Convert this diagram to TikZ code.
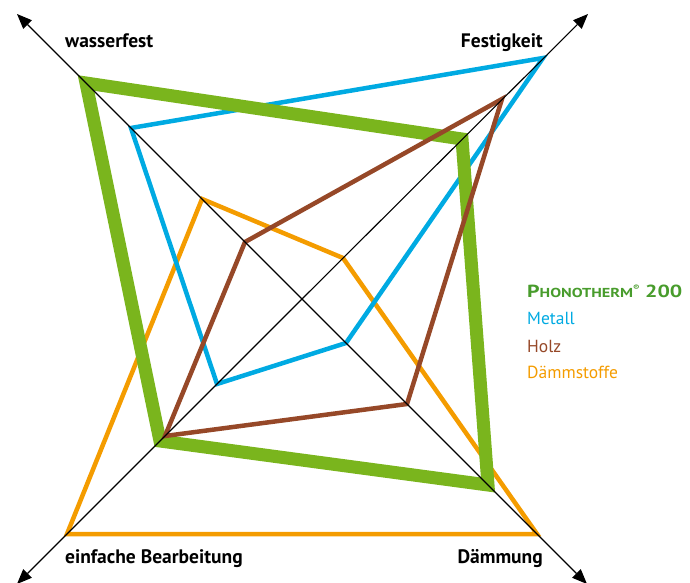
\documentclass[tikz,border=0pt]{standalone}
\usepackage{fontspec}
\setmainfont{PT Sans}
\newfontfamily\phonofont{PT Sans}[FakeStretch=1.25]
\usetikzlibrary{arrows.meta}
\definecolor{gruen}{RGB}{122,181,29}
\definecolor{gruentext}{RGB}{72,156,44}
\definecolor{blau}{RGB}{0,170,226}
\definecolor{braun}{RGB}{150,72,40}
\definecolor{daemmgelb}{RGB}{244,156,0}
\begin{document}
\begin{tikzpicture}[
		x=1pt,y=1pt,
		achse/.style={line width=1.1pt,-{Triangle[length=15pt,width=12pt]}},
		linie/.style={line width=4.5pt,line join=miter},
		phono/.style={line width=13pt,line join=miter,draw=gruen},
		beschriftung/.style={inner sep=0pt,font=\fontsize{19.5}{21}\selectfont\bfseries},
		legende/.style={inner sep=0pt,anchor=base west,font=\fontsize{17.5}{19}\selectfont}
		]
		\useasboundingbox (-302,-284) rectangle (388,299);
		\coordinate (mitte) at (0,0);
		\coordinate (wasser) at (-285,285);
		\coordinate (fest) at (286,285);
		\coordinate (daemm) at (285,-285);
		\coordinate (bearb) at (-285,-285);
		
		\coordinate (dW) at (-100,100);
		\coordinate (dF) at (41,41);
		\coordinate (dD) at (235,-235);
		\coordinate (dB) at (-235,-235);
		\coordinate (mW) at (-171,171);
		\coordinate (mF) at (241,241);
		\coordinate (mD) at (44,-44);
		\coordinate (mB) at (-85,-85);
		\coordinate (pW) at (-216,216);
		\coordinate (pF) at (160,160);
		\coordinate (pD) at (186,-186);
		\coordinate (pB) at (-142,-142);
		\coordinate (hW) at (-57,57);
		\coordinate (hF) at (200,200);
		\coordinate (hD) at (105,-105);
		\coordinate (hB) at (-137,-137);
		
		\draw[linie,draw=daemmgelb] (dW) -- (dF) -- (dD) -- (dB) -- cycle;
		\draw[linie,draw=blau] (mW) -- (mF) -- (mD) -- (mB) -- cycle;
		\draw[phono] (pW) -- (pF) -- (pD) -- (pB) -- cycle;
		\draw[linie,draw=braun] (hW) -- (hF) -- (hD) -- (hB) -- cycle;
		
		\draw[achse] (mitte) -- (wasser);
		\draw[achse] (mitte) -- (fest);
		\draw[achse] (mitte) -- (daemm);
		\draw[achse] (mitte) -- (bearb);
		
		\node[beschriftung,anchor=base west] (lwasser) at (-237,251) {wasserfest};
		\node[beschriftung,anchor=base east] (lfest) at (241,251) {Festigkeit};
		\node[beschriftung,anchor=base west] (lbearb) at (-237,-264) {einfache Bearbeitung};
		\node[beschriftung,anchor=base east] (ldaemm) at (241,-264) {Dämmung};
		
		\node[legende,text=gruentext,font=\phonofont\bfseries] (lphono) at (225,1) {{\fontsize{17.5}{18}\selectfont P}{\fontsize{13}{14}\selectfont HONOTHERM}\raisebox{7.5pt}{\fontsize{7.5}{8}\selectfont ®}\hspace{5.5pt}{\fontsize{17.5}{18}\selectfont 200}};
		\node[legende,text=blau] (lmetall) at (225,-26) {Metall};
		\node[legende,text=braun] (lholz) at (225,-54) {Holz};
		\node[legende,text=daemmgelb] (lstoffe) at (225,-79) {Dämmstoffe};
\end{tikzpicture}
\end{document}
